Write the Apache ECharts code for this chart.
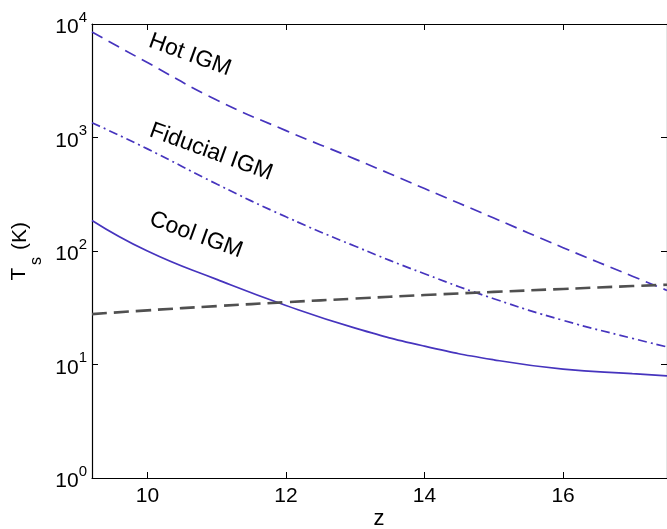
<!DOCTYPE html>
<html>
<head>
<meta charset="utf-8">
<script src="https://cdn.jsdelivr.net/npm/echarts@6/dist/echarts.min.js"></script>
<style>
  html, body { margin: 0; padding: 0; background: #fff; }
  #chart { width: 667px; height: 529px; }
</style>
</head>
<body>
<div id="chart"></div>
<script>
// Redshift samples shared by every curve
const redshift = [9.2, 10, 11, 12, 13, 14, 15, 16, 17, 17.5];

// Spin temperature (K) for three IGM heating histories
const hotIGM      = [8500, 4570, 2140, 1150, 645, 355, 195, 107, 60, 45];
const fiducialIGM = [1350, 794, 389, 200, 110, 63, 38, 24.5, 17, 14.3];
const coolIGM     = [186, 100, 56.2, 33.1, 20.9, 14.5, 11.0, 9.1, 8.3, 7.95];

// CMB temperature (K)
const cmbTemp = [27.8, 30.0, 32.7, 35.4, 38.1, 40.9, 43.6, 46.3, 49.1, 50.4];

// Axis ticks
const xTicks = [10, 12, 14, 16];
const yTickExponents = [0, 1, 2, 3, 4];

const FONT = '"Liberation Sans", Arial, Helvetica, sans-serif';
const BLUE = '#4634be';
const GREY = '#505050';

const pairs = (ys) => redshift.map((z, i) => [z, ys[i]]);

const chart = echarts.init(document.getElementById('chart'), null, { renderer: 'canvas' });

const axisLineStyle = { color: '#000', width: 1.2 };

const xAxisBase = {
  type: 'value',
  min: 9.2,
  max: 17.5,
  axisLine: { show: true, onZero: false, lineStyle: axisLineStyle },
  axisTick: { show: true, inside: true, length: 6, customValues: xTicks, lineStyle: { color: '#000', width: 1 } },
  splitLine: { show: false }
};

const yAxisBase = {
  type: 'log',
  logBase: 10,
  min: 1,
  max: 10000,
  axisLine: { show: true, onZero: false, lineStyle: axisLineStyle },
  axisTick: { show: true, inside: true, length: 6, lineStyle: { color: '#000', width: 1 } },
  minorTick: { show: false },
  splitLine: { show: false }
};

const option = {
  animation: false,
  backgroundColor: '#fff',
  grid: { left: 92, top: 24, right: -3, bottom: 51, containLabel: false },
  xAxis: [
    Object.assign({}, xAxisBase, {
      position: 'bottom',
      axisLabel: {
        show: true,
        customValues: xTicks,
        margin: 8,
        color: '#000',
        fontSize: 21,
        fontFamily: FONT
      }
    }),
    Object.assign({}, xAxisBase, {
      position: 'top',
      axisLabel: { show: false }
    })
  ],
  yAxis: [
    Object.assign({}, yAxisBase, {
      position: 'left',
      axisLabel: {
        show: true,
        margin: 5,
        color: '#000',
        fontFamily: FONT,
        customValues: yTickExponents.map(e => Math.pow(10, e)),
        formatter: (v) => '{b|10}{e|' + Math.round(Math.log10(v)) + '}',
        rich: {
          b: { fontSize: 21, fontFamily: FONT, color: '#000', verticalAlign: 'bottom', lineHeight: 28 },
          e: { fontSize: 15, fontFamily: FONT, color: '#000', verticalAlign: 'top', lineHeight: 28 }
        }
      }
    }),
    Object.assign({}, yAxisBase, {
      position: 'right',
      axisLabel: { show: false }
    })
  ],
  series: [
    {
      name: 'Hot IGM', type: 'line', smooth: true, showSymbol: false,
      xAxisIndex: 0, yAxisIndex: 0,
      data: pairs(hotIGM),
      lineStyle: { color: BLUE, width: 1.7, type: [12, 7] }
    },
    {
      name: 'Fiducial IGM', type: 'line', smooth: true, showSymbol: false,
      xAxisIndex: 0, yAxisIndex: 0,
      data: pairs(fiducialIGM),
      lineStyle: { color: BLUE, width: 1.7, type: [9, 4, 2, 4] }
    },
    {
      name: 'Cool IGM', type: 'line', smooth: true, showSymbol: false,
      xAxisIndex: 0, yAxisIndex: 0,
      data: pairs(coolIGM),
      lineStyle: { color: BLUE, width: 1.7, type: 'solid' }
    },
    {
      name: 'CMB', type: 'line', smooth: true, showSymbol: false,
      xAxisIndex: 0, yAxisIndex: 0,
      data: pairs(cmbTemp),
      lineStyle: { color: GREY, width: 2.6, type: [15, 7] }
    }
  ],
  graphic: [
    // Curve labels
    { type: 'text', x: 190, y: 55, rotation: -0.35,
      style: { text: 'Hot IGM', fontSize: 23, fontFamily: FONT, fill: '#000', align: 'center', verticalAlign: 'middle' } },
    { type: 'text', x: 211, y: 152, rotation: -0.35,
      style: { text: 'Fiducial IGM', fontSize: 23, fontFamily: FONT, fill: '#000', align: 'center', verticalAlign: 'middle' } },
    { type: 'text', x: 196, y: 235, rotation: -0.35,
      style: { text: 'Cool IGM', fontSize: 23, fontFamily: FONT, fill: '#000', align: 'center', verticalAlign: 'middle' } },
    // Axis titles
    { type: 'text', x: 379, y: 519,
      style: { text: 'z', fontSize: 22, fontFamily: FONT, fill: '#000', align: 'center', verticalAlign: 'middle' } },
    { type: 'text', x: 19, y: 274, rotation: Math.PI / 2,
      style: { text: 'T', fontSize: 21, fontFamily: FONT, fill: '#000', align: 'center', verticalAlign: 'middle' } },
    { type: 'text', x: 37, y: 261, rotation: Math.PI / 2,
      style: { text: 's', fontSize: 16, fontFamily: FONT, fill: '#000', align: 'center', verticalAlign: 'middle' } },
    { type: 'text', x: 20, y: 236, rotation: Math.PI / 2,
      style: { text: '(K)', fontSize: 21, fontFamily: FONT, fill: '#000', align: 'center', verticalAlign: 'middle' } }
  ]
};

chart.setOption(option);
</script>
</body>
</html>
